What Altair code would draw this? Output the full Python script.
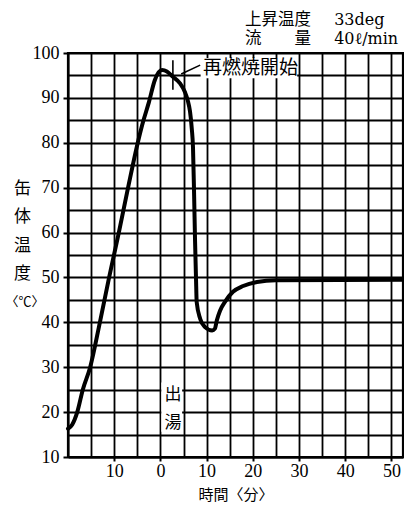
import altair as alt
import pandas as pd

# ---- curve data (time in minutes, body temperature in deg C) ----
time_min = [-20, -19.1, -18.0, -16.8, -15.2, -13.1, -11.1, -9.0, -7.0, -4.9,
            -3.8, -2.5, -1.2, 0.35, 1.4, 2.7, 4.2, 5.3, 5.9, 6.4, 6.8,
            7.05, 7.3, 7.5, 7.7, 7.85, 8.6, 9.6, 11.2, 11.8, 12.2, 12.9,
            14.0, 15.7, 17.9, 20.9, 25.0, 52.5]
temp_c = [16.3, 17.2, 20.0, 25.0, 30.0, 40.0, 50.0, 60.0, 70.0, 80.0,
          84.5, 89.0, 94.0, 96.2, 95.9, 94.7, 93.3, 91.3, 89.5, 87.0, 83.0,
          79.0, 68.0, 58.0, 50.0, 44.5, 40.8, 39.0, 38.2, 38.6, 40.4, 42.6,
          44.6, 46.8, 48.1, 49.0, 49.4, 49.5]

# ---- axes ----
x_domain = [-20, 52.5]
y_domain = [10, 100]
x_grid = list(range(-15, 55, 5))
y_grid = list(range(10, 105, 5))
x_title = "時間〈分〉"
y_title = ["缶", "体", "温", "度"]
y_unit = ["〈℃〉"]
y_unit_t = [-29.3]
y_unit_v = [44.5]

# ---- header texts ----
head_keys = ["上昇温度", "流　　量"]
head_vals = ["33deg", "40ℓ/min"]
head_key_t = [18.3, 18.3]
head_val_t = [37.6, 37.6]
head_v = [107.4, 103.2]

# ---- annotations ----
ann_text = ["再燃焼開始"]
ann_t = [9.2]
ann_v = [96.7]
ann_box_t = [8.7]
ann_box_t2 = [29.6]
ann_box_v = [94.4]
ann_box_v2 = [98.9]

tap_text = ["出", "湯"]
tap_t = [2.7, 2.7]
tap_v = [23.8, 17.6]
tap_box_t = [0.2]
tap_box_t2 = [4.7]
tap_box_v = [15.6]
tap_box_v2 = [26.6]

# marker tick and leader line for 再燃焼開始
rule_t = [2.7, 8.6]
rule_t2 = [2.7, 4.5]
rule_v = [98.4, 97.3]
rule_v2 = [91.8, 95.3]

SERIF = "Liberation Serif"
WIDE_SERIF = "DejaVu Serif"
CJK = "Noto Sans CJK JP"

xs = alt.Scale(domain=x_domain, nice=False, zero=False)
ys = alt.Scale(domain=y_domain, nice=False, zero=False)

tick_cond = {"condition": {"test": "datum.value % 10 == 0", "value": "black"},
             "value": "transparent"}

x_axis = alt.Axis(
    values=x_grid,
    labelExpr="datum.value % 10 == 0 ? '' + abs(datum.value) : ''",
    grid=True, gridColor="black", gridWidth=1.8, gridOpacity=1,
    domainColor="black", domainWidth=2.2,
    tickColor=tick_cond, tickSize=4, tickWidth=2,
    labelFont=SERIF, labelFontSize=18, labelColor="black", labelPadding=1,
    labelFlush=False, labelOverlap=False,
    title=x_title, titleFont=CJK, titleFontSize=15, titleFontWeight="normal",
    titleColor="black", titleY=37, titleBaseline="middle",
)
y_axis = alt.Axis(
    values=y_grid,
    labelExpr="datum.value % 10 == 0 ? '' + datum.value : ''",
    grid=True, gridColor="black", gridWidth=1.8, gridOpacity=1,
    domainColor="black", domainWidth=2.2,
    tickColor=tick_cond, tickSize=5, tickWidth=2,
    labelFont=SERIF, labelFontSize=18, labelColor="black", labelPadding=4,
    labelFlush=False, labelOverlap=False,
    title=y_title, titleFont=CJK, titleFontSize=17, titleFontWeight="normal",
    titleColor="black", titleAngle=0, titleAlign="center",
    titleBaseline="middle", titleLineHeight=28.5, titleX=-46, titleY=135,
)

X = alt.X("t:Q", scale=xs, axis=x_axis)
Y = alt.Y("v:Q", scale=ys, axis=y_axis)

curve_df = pd.DataFrame({"t": time_min, "v": temp_c})
curve = alt.Chart(curve_df).mark_line(
    color="black", strokeWidth=4, interpolate="monotone",
    strokeCap="round", strokeJoin="round"
).encode(x=X, y=Y)

box_df = pd.DataFrame({
    "t": ann_box_t + tap_box_t, "t2": ann_box_t2 + tap_box_t2,
    "v": ann_box_v + tap_box_v, "v2": ann_box_v2 + tap_box_v2,
})
boxes = alt.Chart(box_df).mark_rect(color="white").encode(
    x=X, x2="t2:Q", y=Y, y2="v2:Q")

ann_df = pd.DataFrame({"t": ann_t, "v": ann_v, "s": ann_text})
ann = alt.Chart(ann_df).mark_text(
    align="left", baseline="middle", font=CJK, fontSize=19, color="black"
).encode(x=X, y=Y, text="s:N")

tap_df = pd.DataFrame({"t": tap_t, "v": tap_v, "s": tap_text})
tap = alt.Chart(tap_df).mark_text(
    align="center", baseline="middle", font=CJK, fontSize=17, color="black"
).encode(x=X, y=Y, text="s:N")

unit_df = pd.DataFrame({"t": y_unit_t, "v": y_unit_v, "s": y_unit})
unit = alt.Chart(unit_df).mark_text(
    align="center", baseline="middle", font=CJK, fontSize=13, color="black"
).encode(x=X, y=Y, text="s:N")

hk_df = pd.DataFrame({"t": head_key_t, "v": head_v, "s": head_keys})
hk = alt.Chart(hk_df).mark_text(
    align="left", baseline="middle", font=CJK, fontSize=16.5, color="black"
).encode(x=X, y=Y, text="s:N")

hv_df = pd.DataFrame({"t": head_val_t, "v": head_v, "s": head_vals})
hv = alt.Chart(hv_df).mark_text(
    align="left", baseline="middle", font=WIDE_SERIF, fontSize=16, color="black"
).encode(x=X, y=Y, text="s:N")

rule_df = pd.DataFrame({"t": rule_t, "t2": rule_t2, "v": rule_v, "v2": rule_v2})
rules = alt.Chart(rule_df).mark_rule(color="black", strokeWidth=1.6).encode(
    x=X, x2="t2:Q", y=Y, y2="v2:Q")

chart = alt.layer(curve, boxes, ann, tap, unit, hk, hv, rules).properties(
    width=335, height=404,
    autosize=alt.AutoSizeParams(type="none"),
    padding={"left": 60, "top": 45, "right": 1, "bottom": 45},
).configure_view(
    stroke="black", strokeWidth=2.2
).configure_axis(
    labelFont=SERIF, labelFontSize=18
)

chart.save("out.html", embed_options={"renderer": "svg", "actions": False})
